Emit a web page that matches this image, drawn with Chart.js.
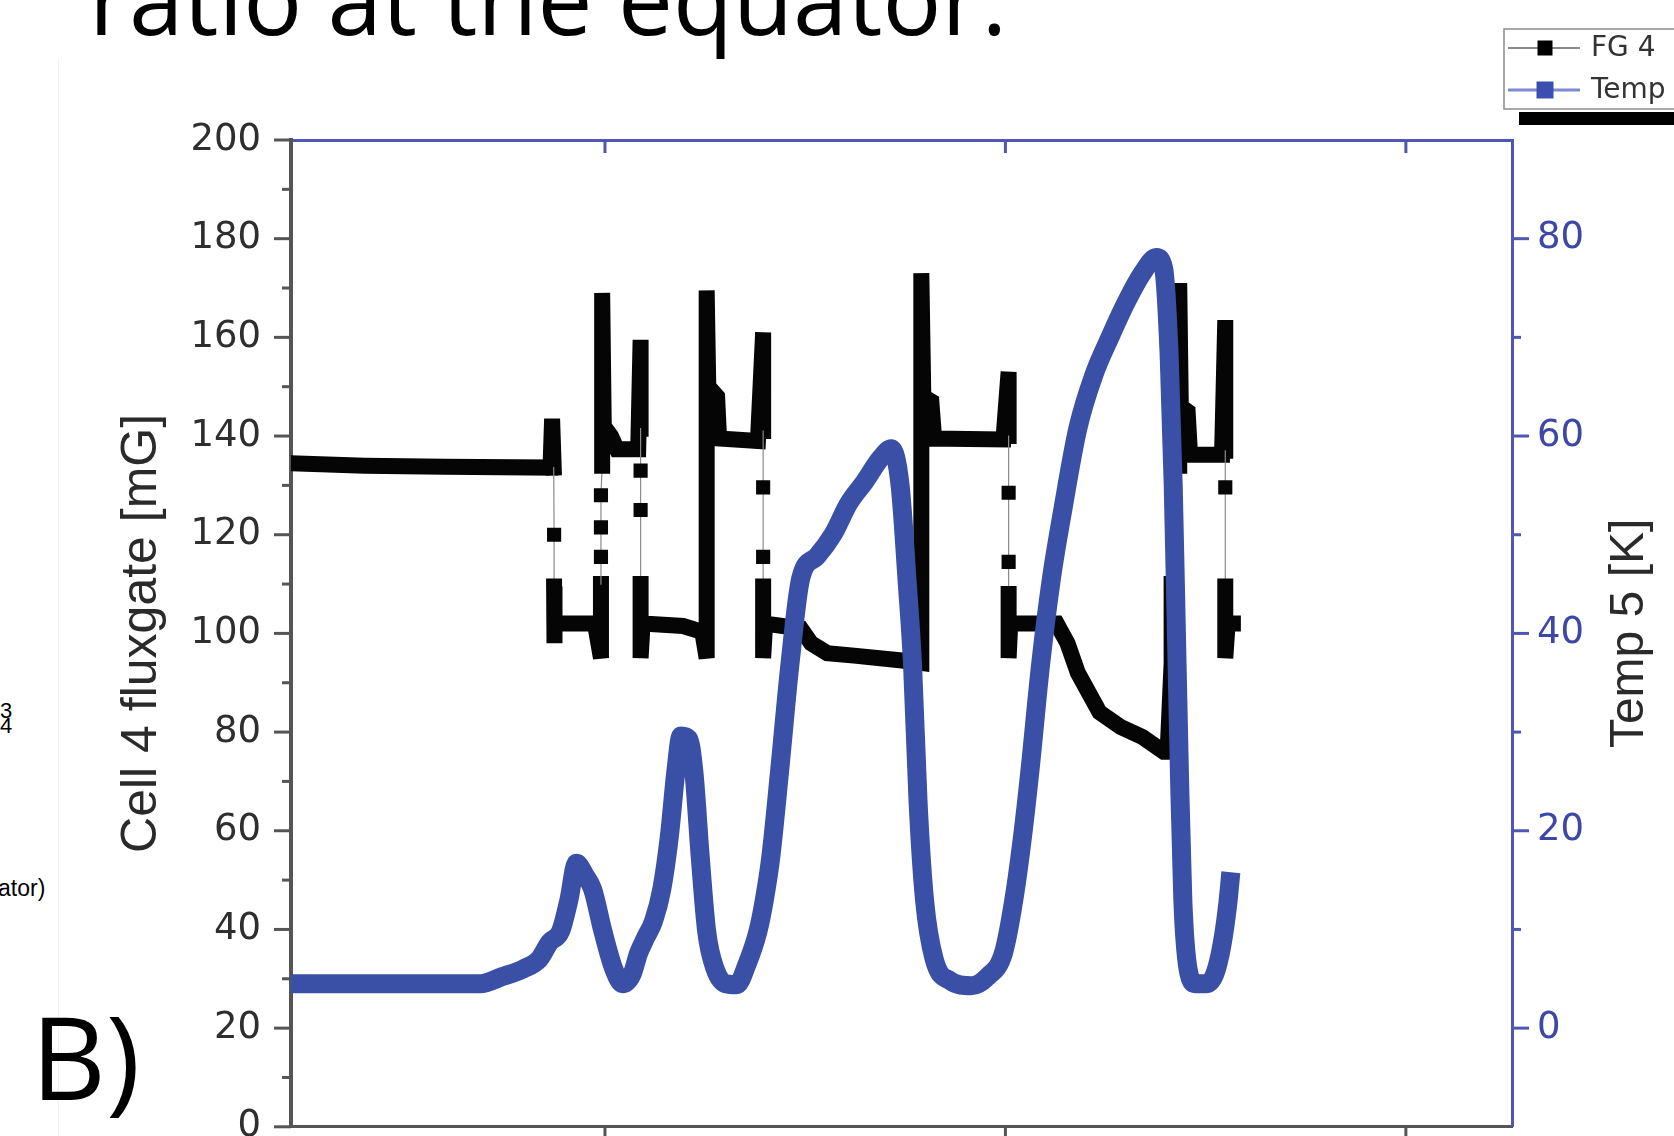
<!DOCTYPE html>
<html>
<head>
<meta charset="utf-8">
<script src="https://cdn.jsdelivr.net/npm/chart.js@4.4.1/dist/chart.umd.min.js"></script>
<style>
  html, body { margin: 0; padding: 0; background: #fff; }
  #page { position: relative; width: 1674px; height: 1136px; overflow: hidden; }
  #slide { position: absolute; left: 0; top: 0; }
  /* taller than the page: the x labels below the axis are cut off in the original */
  #chart-box { position: absolute; left: 0; top: 0; width: 1674px; height: 1179px; }
</style>
</head>
<body>
<div id="page">
  <svg id="slide" width="1674" height="1136" xmlns="http://www.w3.org/2000/svg">
    <line x1="58.5" y1="58" x2="58.5" y2="1136" stroke="#f0f0f0" stroke-width="1"/>
    <text x="89" y="35" font-family="Open Sans" font-size="98" fill="#000">ratio at the equator.</text>
    <text x="0" y="718" font-family="Liberation Sans" font-size="22" fill="#000">3</text>
    <text x="0" y="733" font-family="Liberation Sans" font-size="22" fill="#000">4</text>
    <text x="-2" y="896" font-family="Liberation Sans" font-size="23" fill="#000">ator)</text>
    <text x="31" y="1100" font-family="Open Sans" font-size="116" fill="#000">B)</text>
  </svg>
  <div id="chart-box"><canvas id="fluxChart"></canvas></div>
</div>
<script>
// axis ticks
const timeTicks = [0, 100, 200];
const fluxTicks = [0, 20, 40, 60, 80, 100, 120, 140, 160, 180, 200];
const tempTicks = [0, 20, 40, 60, 80];

// FG 4 fluxgate samples [mG]
const fgTime = [
  -78.4, -60, -40, -13.6, -13.2, -12.8, -12.7, -12.7, -12.7, -12.5, -2.5,
  -1.0, -1.0, -1.0, -1.0, -1.0, -0.7, -0.7, -0.3, 1.5, 3.0, 8.3,
  8.9, 8.9, 8.9, 8.9, 8.9, 8.9, 9.4, 19.5, 24.3,
  25.4, 25.4, 25.8, 28.0, 28.5, 38.2,
  39.5, 39.5, 39.5, 39.5, 39.5, 39.5, 40.0, 48.9, 51.5, 55.5, 62.2, 74.2,
  79.0, 79.0, 79.5, 81.5, 82.2, 99.5,
  100.8, 100.8, 100.8, 100.8, 100.8, 100.8, 101.2, 112.8, 115.5, 118.1, 120.8, 123.5, 128.8, 134.2, 139.5, 140.5,
  141.5, 141.5, 142.5, 142.5, 143.4, 143.4, 143.8, 145.5, 146.1, 154.1,
  154.9, 154.9, 154.9, 154.9, 154.9, 155.5, 156.8,
];
const fgField = [
  134.5, 134.0, 133.8, 133.6, 143.5, 133.6, 120.0, 109.5, 98.0, 102.0, 102.0,
  95.0, 110.0, 115.5, 121.5, 128.0, 134.0, 169.0, 142.0, 140.0, 137.3, 137.3,
  159.5, 141.5, 133.0, 125.0, 110.0, 95.0, 102.0, 101.5, 100.3,
  95.0, 169.5, 150.0, 148.0, 139.5, 139.0,
  161.0, 141.0, 129.6, 115.5, 109.5, 95.0, 102.0, 101.0, 98.0, 96.0, 95.5, 94.5,
  94.0, 173.0, 148.0, 147.0, 139.5, 139.3,
  153.0, 140.0, 128.5, 114.5, 108.0, 95.0, 102.0, 102.0, 98.0, 92.0, 88.0, 84.0, 81.0, 79.0, 76.0, 76.0,
  94.0, 110.0, 118.0, 126.0, 134.0, 171.0, 146.0, 145.0, 136.2, 136.2,
  163.5, 137.0, 129.6, 109.5, 95.0, 102.0, 102.0,
];
// samples that sit alone between two switching states
const fgLoneSamples = [6, 13, 14, 15, 24, 25, 39, 40, 57, 58, 73, 74, 83];

// Temp 5 [K]
const tempTime = [
  -78.4, -31.1, -25.8, -20.4, -16.4, -13.8, -11.1, -9.0, -7.1, -5.0, -3.1, -0.5, 2.2, 4.4,
  6.8, 8.4, 10.2, 12.1, 14.2, 16.1, 17.7, 19.0, 20.9, 22.2, 23.8, 25.4, 27.5, 30.2, 32.9,
  35.5, 38.2, 39.8, 41.4, 43.6, 46.2, 48.9, 52.9, 56.9, 60.9, 64.9, 68.9, 71.5, 73.7, 75.5,
  76.8, 78.2, 79.8, 82.2, 86.2, 91.5, 95.5, 99.5, 102.1, 104.3, 106.1, 108.8, 111.5, 114.1,
  118.1, 122.1, 126.1, 130.1, 134.2, 137.7, 139.5, 140.9, 141.9, 142.7, 143.5, 144.3, 145.6,
  147.5, 150.1, 152.3, 154.1, 155.5, 156.3,
];
const tempValue = [
  4.5, 4.5, 5.2, 6.0, 7.0, 8.7, 9.8, 13.0, 16.7, 15.5, 14.1, 9.8, 6.0, 4.5,
  5.5, 7.6, 9.2, 10.8, 14.1, 19.5, 26.0, 29.6, 29.3, 26.0, 17.3, 9.8, 6.0, 4.5, 4.4,
  6.5, 9.8, 13.0, 17.3, 26.0, 36.9, 45.6, 47.8, 50.0, 53.2, 55.4, 57.8, 58.7, 55.0, 45.0,
  36.9, 22.8, 13.0, 7.0, 4.8, 4.3, 5.2, 7.6, 13.0, 19.5, 26.0, 36.9, 45.6, 52.0,
  60.8, 66.2, 70.0, 73.5, 76.5, 78.1, 77.0, 68.0, 55.0, 40.0, 25.0, 13.0, 6.0,
  4.5, 4.5, 5.5, 8.5, 12.5, 15.8,
];

const FONT = 'Liberation Sans, Arial, sans-serif';
const WIDE_FONT = 'DejaVu Sans, sans-serif';
const BLUE = '#3a4fa6';
const AXIS_BLUE = '#4f56b3';
const AXIS_GREY = '#555555';

const isLone = i => fgLoneSamples.includes(i);
const thinSegment = ctx => isLone(ctx.p0DataIndex) || isLone(ctx.p1DataIndex);

// tick marks drawn by hand so the top axis can point inward
const tickMarks = {
  x: { edge: 'bottom', color: AXIS_GREY, width: 3, major: 14 },
  x2: { edge: 'top', color: AXIS_BLUE, width: 3, major: 13 },
  y: { edge: 'left', color: AXIS_GREY, width: 3, major: 17, minor: 9 },
  y1: { edge: 'right', color: AXIS_BLUE, width: 3, major: 17, minor: 9 },
};

const legendStyle = [
  { line: '#8a8a8a', lineWidth: 2, box: '#000000', size: 15 },
  { line: '#8088d2', lineWidth: 3, box: '#3a4fb0', size: 17 },
];

const frameDecor = {
  id: 'frameDecor',
  afterDraw(chart) {
    const { ctx, chartArea } = chart;
    ctx.save();

    Object.entries(tickMarks).forEach(([id, style]) => {
      const scale = chart.scales[id];
      const values = scale.ticks.map(t => t.value);
      const minors = style.minor ? values.slice(1).map((v, i) => (v + values[i]) / 2) : [];
      ctx.strokeStyle = style.color;
      ctx.lineWidth = style.width;
      const mark = (value, len) => {
        const p = scale.getPixelForValue(value);
        ctx.beginPath();
        if (scale.isHorizontal()) {
          const y0 = style.edge === 'top' ? chartArea.top : chartArea.bottom;
          ctx.moveTo(p, y0);
          ctx.lineTo(p, y0 + len);
        } else {
          const x0 = style.edge === 'left' ? chartArea.left : chartArea.right;
          ctx.moveTo(x0, p);
          ctx.lineTo(style.edge === 'left' ? x0 - len : x0 + len, p);
        }
        ctx.stroke();
      };
      values.forEach(v => mark(v, style.major));
      minors.forEach(v => mark(v, style.minor));
    });

    // right axis title reads bottom to top like the left one
    ctx.fillStyle = '#2a2a2a';
    ctx.font = '48px ' + FONT;
    ctx.textAlign = 'center';
    ctx.textBaseline = 'middle';
    ctx.save();
    ctx.translate(chartArea.right + 118, (chartArea.top + chartArea.bottom) / 2);
    ctx.rotate(-Math.PI / 2);
    ctx.fillText('Temp 5 [K]', 0, 0);
    ctx.restore();

    // legend box, top right, runs past the page edge
    const boxLeft = chartArea.right - 8;
    const boxTop = 29;
    ctx.fillStyle = '#000';
    ctx.fillRect(boxLeft + 15, boxTop + 83, 300, 13);
    ctx.fillStyle = '#fff';
    ctx.fillRect(boxLeft, boxTop, 300, 80);
    ctx.strokeStyle = '#8c8c8c';
    ctx.lineWidth = 1.5;
    ctx.strokeRect(boxLeft, boxTop, 300, 80);

    ctx.font = '28px ' + WIDE_FONT;
    ctx.textAlign = 'left';
    chart.data.datasets.forEach((ds, i) => {
      const st = legendStyle[i];
      const y = boxTop + 19 + i * 42;
      ctx.strokeStyle = st.line;
      ctx.lineWidth = st.lineWidth;
      ctx.beginPath();
      ctx.moveTo(boxLeft + 4, y);
      ctx.lineTo(boxLeft + 76, y);
      ctx.stroke();
      ctx.fillStyle = st.box;
      ctx.fillRect(boxLeft + 41 - st.size / 2, y - st.size / 2, st.size, st.size);
      ctx.fillStyle = '#333';
      ctx.fillText(ds.label, boxLeft + 87, y + 1);
    });

    ctx.restore();
  },
};

const fixedTicks = list => scale => { scale.ticks = list.map(value => ({ value })); };

new Chart(document.getElementById('fluxChart'), {
  type: 'line',
  data: {
    datasets: [
      {
        label: 'FG 4',
        data: fgTime.map((t, i) => ({ x: t, y: fgField[i] })),
        xAxisID: 'x',
        yAxisID: 'y',
        order: 1,
        borderColor: '#8c8c8c',
        borderWidth: 1.2,
        borderCapStyle: 'square',
        borderJoinStyle: 'miter',
        pointStyle: 'rect',
        pointRadius: ctx => (isLone(ctx.dataIndex) ? 10 : 0),
        pointBackgroundColor: '#050505',
        pointBorderWidth: 0,
        segment: {
          borderColor: ctx => (thinSegment(ctx) ? '#8c8c8c' : '#050505'),
          borderWidth: ctx => (thinSegment(ctx) ? 1.2 : 16),
        },
      },
      {
        label: 'Temp',
        data: tempTime.map((t, i) => ({ x: t, y: tempValue[i] })),
        xAxisID: 'x',
        yAxisID: 'y1',
        order: 0,
        borderColor: BLUE,
        borderWidth: 19,
        borderJoinStyle: 'round',
        cubicInterpolationMode: 'monotone',
        pointRadius: 0,
      },
    ],
  },
  options: {
    responsive: true,
    maintainAspectRatio: false,
    animation: false,
    devicePixelRatio: 1,
    layout: { padding: 0 },
    plugins: { legend: { display: false }, tooltip: { enabled: false } },
    scales: {
      x: {
        type: 'linear',
        position: 'bottom',
        min: -78.4,
        max: 226.5,
        afterBuildTicks: fixedTicks(timeTicks),
        afterFit: scale => { scale.height = 13; },
        ticks: { display: false },
        grid: { display: false, drawTicks: false },
        border: { display: true, color: AXIS_GREY, width: 3 },
      },
      x2: {
        type: 'linear',
        position: 'top',
        min: -78.4,
        max: 226.5,
        afterBuildTicks: fixedTicks(timeTicks),
        afterFit: scale => { scale.height = 140; },
        ticks: { display: false },
        grid: { display: false, drawTicks: false },
        border: { display: true, color: AXIS_BLUE, width: 3 },
      },
      y: {
        type: 'linear',
        position: 'left',
        min: 0,
        max: 200,
        afterBuildTicks: fixedTicks(fluxTicks),
        afterFit: scale => { scale.width = 291; },
        ticks: { padding: 30, color: '#2e2e2e', font: { family: WIDE_FONT, size: 37 } },
        grid: { display: false, drawTicks: false },
        border: { display: true, color: AXIS_GREY, width: 4 },
        title: {
          display: true,
          text: 'Cell 4 fluxgate [mG]',
          color: '#2a2a2a',
          font: { family: FONT, size: 50 },
          padding: { top: 112, bottom: 0 },
        },
      },
      y1: {
        type: 'linear',
        position: 'right',
        min: -10,
        max: 90,
        afterBuildTicks: fixedTicks(tempTicks),
        afterFit: scale => { scale.width = 162; },
        ticks: { padding: 25, color: '#3d47a6', font: { family: WIDE_FONT, size: 37 } },
        grid: { display: false, drawTicks: false },
        border: { display: true, color: AXIS_BLUE, width: 3 },
      },
    },
  },
  plugins: [frameDecor],
});
</script>
</body>
</html>
